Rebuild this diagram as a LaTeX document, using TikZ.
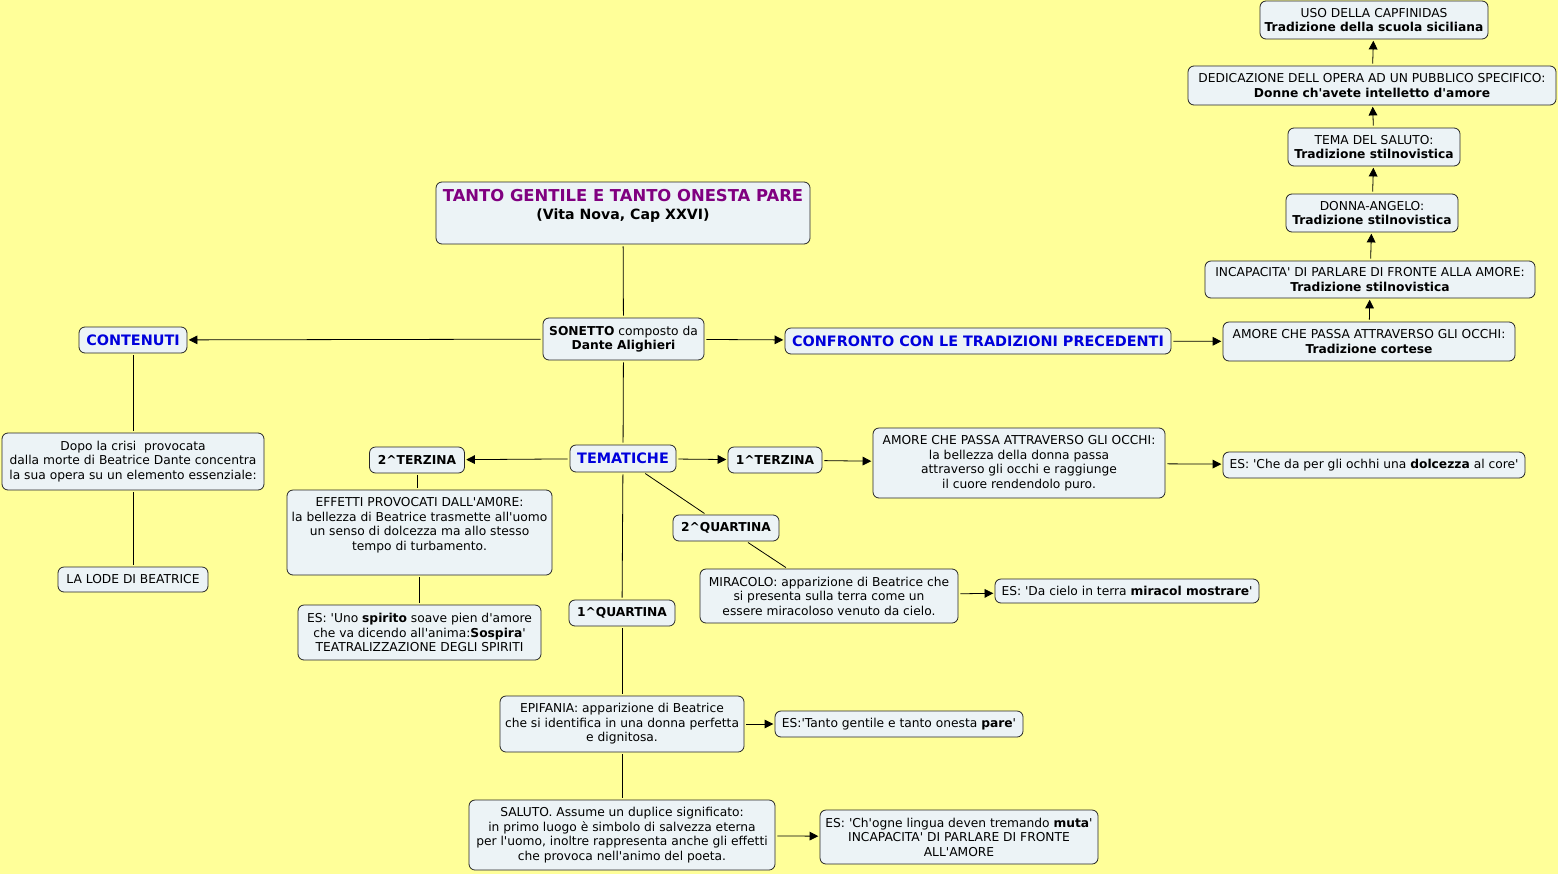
\documentclass[tikz,border=0pt]{standalone}
\usepackage{fontspec}
\setmainfont{DejaVu Sans}[Ligatures=TeXOff]
\usetikzlibrary{arrows.meta}
\definecolor{bgyel}{RGB}{255,255,153}
\definecolor{boxfill}{RGB}{236,243,246}
\definecolor{ttlpurple}{RGB}{128,0,128}
\definecolor{hdblue}{RGB}{0,0,220}
\tikzset{
  box/.style={draw=black!85, fill=boxfill, rounded corners=4.5pt, line width=0.6pt,
    align=center, inner sep=1pt, font=\fontsize{9.2}{10.9}\selectfont},
  sz/.style 2 args={minimum width=#1*0.75pt, minimum height=#2*0.75pt},
  hd/.style={font=\fontsize{10.8}{12}\selectfont\bfseries, text=hdblue},
  conn/.style={line width=0.6pt, shorten <=1.5pt, shorten >=1.5pt},
  arr/.style={conn, -{Triangle[length=6.5pt,width=6.5pt]}, shorten >=1pt}
}
\begin{document}
\begin{tikzpicture}[x=0.75pt,y=-0.75pt]
\fill[bgyel] (0,0) rectangle (1558,874);
\useasboundingbox (0,0) rectangle (1558,874);

% top
\node[box, sz={374}{62}, text depth=13pt] (title) at (623,213)
  {{\fontsize{12.3}{14}\selectfont\bfseries\color{ttlpurple}TANTO GENTILE E TANTO ONESTA PARE}\\[2pt]
   {\fontsize{10.6}{12}\selectfont\bfseries (Vita Nova, Cap XXVI)}};
\node[box, sz={161}{42}] (sonetto) at (623.5,339) {\textbf{SONETTO} composto da\\\textbf{Dante Alighieri}};
\node[box, sz={108}{26}, hd] (contenuti) at (133,340) {CONTENUTI};
\node[box, sz={386}{26}, hd] (confronto) at (978,341) {CONFRONTO CON LE TRADIZIONI PRECEDENTI};

% right column
\node[box, sz={292}{39}] (cortese) at (1369,341.5) {AMORE CHE PASSA ATTRAVERSO GLI OCCHI:\\\textbf{Tradizione cortese}};
\node[box, sz={330}{37}] (incap) at (1370,279.5) {INCAPACITA' DI PARLARE DI FRONTE ALLA AMORE:\\\textbf{Tradizione stilnovistica}};
\node[box, sz={172}{38}] (angelo) at (1372,213) {DONNA-ANGELO:\\\textbf{Tradizione stilnovistica}};
\node[box, sz={172}{38}] (temasal) at (1374,147) {TEMA DEL SALUTO:\\\textbf{Tradizione stilnovistica}};
\node[box, sz={368}{39}] (dedic) at (1372,85.5) {DEDICAZIONE DELL OPERA AD UN PUBBLICO SPECIFICO:\\\textbf{Donne ch'avete intelletto d'amore}};
\node[box, sz={228}{38}] (uso) at (1374,20) {USO DELLA CAPFINIDAS\\\textbf{Tradizione della scuola siciliana}};

% left column
\node[box, sz={262}{57}] (dopo) at (133,461.5) {Dopo la crisi\ \ provocata\\dalla morte di Beatrice Dante concentra\\la sua opera su un elemento essenziale:};
\node[box, sz={150}{25}] (lode) at (133,579.5) {LA LODE DI BEATRICE};

% tematiche
\node[box, sz={106}{27}, hd] (tematiche) at (623,458.5) {TEMATICHE};
\node[box, sz={95}{26}] (terz2) at (417,460) {\textbf{2\textasciicircum TERZINA}};
\node[box, sz={265}{85}, text depth=13pt] (effetti) at (419.5,532.5) {EFFETTI PROVOCATI DALL'AM0RE:\\la bellezza di Beatrice trasmette all'uomo\\un senso di dolcezza ma allo stesso\\tempo di turbamento.};
\node[box, sz={243}{55}] (spirito) at (419.5,632.5) {ES: 'Uno \textbf{spirito} soave pien d'amore\\che va dicendo all'anima:\textbf{Sospira}'\\TEATRALIZZAZIONE DEGLI SPIRITI};
\node[box, sz={94}{26}] (terz1) at (775,460) {\textbf{1\textasciicircum TERZINA}};
\node[box, sz={292}{70}] (amore) at (1019,463) {AMORE CHE PASSA ATTRAVERSO GLI OCCHI:\\la bellezza della donna passa\\attraverso gli occhi e raggiunge\\il cuore rendendolo puro.};
\node[box, sz={302}{26}] (dolcezza) at (1374,465) {ES: 'Che da per gli ochhi una \textbf{dolcezza} al core'};
\node[box, sz={106}{26}] (quart2) at (726,528) {\textbf{2\textasciicircum QUARTINA}};
\node[box, sz={258}{54}] (miracolo) at (829,596) {MIRACOLO: apparizione di Beatrice che\\si presenta sulla terra come un\\essere miracoloso venuto da cielo.};
\node[box, sz={264}{24}] (miracol) at (1127,591) {ES: 'Da cielo in terra \textbf{miracol mostrare}'};
\node[box, sz={106}{26}] (quart1) at (622,613) {\textbf{1\textasciicircum QUARTINA}};
\node[box, sz={244}{56}] (epifania) at (622,724) {EPIFANIA: apparizione di Beatrice\\che si identifica in una donna perfetta\\e dignitosa.};
\node[box, sz={248}{26}] (tanto) at (899,724) {ES:'Tanto gentile e tanto onesta \textbf{pare}'};
\node[box, sz={306}{70}] (salutoB) at (622,835) {SALUTO. Assume un duplice significato:\\in primo luogo è simbolo di salvezza eterna\\per l'uomo, inoltre rappresenta anche gli effetti\\che provoca nell'animo del poeta.};
\node[box, sz={278}{54}] (muta) at (959,837) {ES: 'Ch'ogne lingua deven tremando \textbf{muta}'\\INCAPACITA' DI PARLARE DI FRONTE\\ALL'AMORE};

% connectors
\draw[conn] (title) -- (sonetto);
\draw[conn] (sonetto) -- (tematiche);
\draw[arr] (sonetto) -- (contenuti);
\draw[arr] (sonetto) -- (confronto);
\draw[arr] (confronto) -- (cortese);
\draw[arr] (cortese) -- (incap);
\draw[arr] (incap) -- (angelo);
\draw[arr] (angelo) -- (temasal);
\draw[arr] (temasal) -- (dedic);
\draw[arr] (dedic) -- (uso);
\draw[conn] (contenuti) -- (dopo);
\draw[conn] (dopo) -- (lode);
\draw[arr] (tematiche) -- (terz2);
\draw[conn] (terz2.south) -- (terz2.south |- effetti.north);
\draw[conn] (effetti) -- (spirito);
\draw[arr] (tematiche) -- (terz1);
\draw[arr] (terz1) -- (amore);
\draw[arr] (amore) -- (dolcezza);
\draw[conn] (tematiche) -- (quart2);
\draw[conn] (quart2) -- (miracolo);
\draw[arr] (miracolo) -- (miracol);
\draw[conn] (tematiche) -- (quart1);
\draw[conn] (quart1) -- (epifania);
\draw[arr] (epifania) -- (tanto);
\draw[conn] (epifania) -- (salutoB);
\draw[arr] (salutoB) -- (muta);
\end{tikzpicture}
\end{document}
